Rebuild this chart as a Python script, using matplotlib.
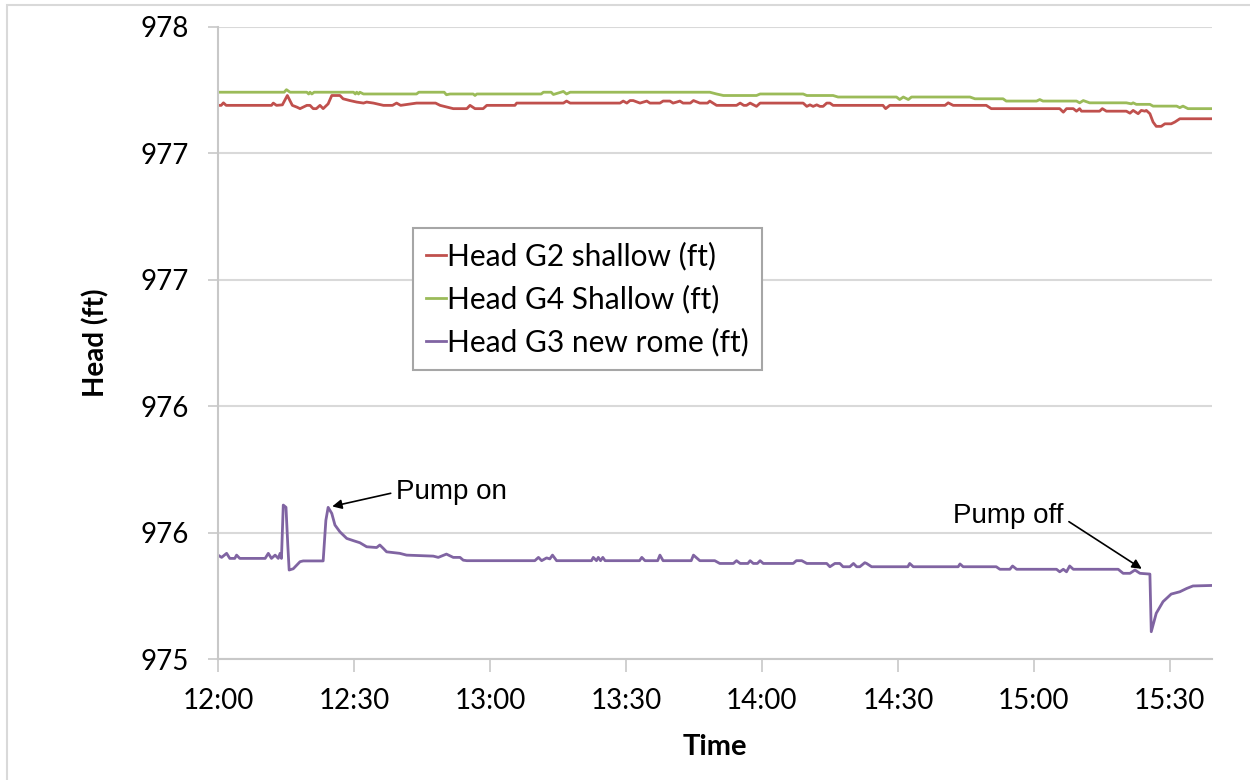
import math
import matplotlib
matplotlib.use('Agg')
import matplotlib.pyplot as plt
from matplotlib.ticker import FuncFormatter, MultipleLocator
from matplotlib.patches import Rectangle

# time in minutes after 12:00, head in ft
g2_min = [0.0, 0.7, 1.2, 1.8, 11.8, 12.2, 12.9, 14.2, 15.3, 16.4, 17.4, 18.1, 19.6, 20.3,
          21.0, 21.7, 22.5, 23.2, 24.3, 25.1, 26.9, 27.6, 29.1, 30.6, 32.1, 32.8, 34.3,
          36.5, 38.5, 39.4, 40.3, 43.8, 48.0, 49.0, 51.9, 54.9, 55.6, 56.7, 58.5, 59.3,
          65.5, 65.9, 76.2, 76.9, 77.7, 88.7, 89.4, 90.2, 90.9, 91.6, 93.1, 94.6, 95.3,
          97.5, 98.2, 99.7, 100.4, 101.2, 101.9, 102.6, 104.2, 104.9, 106.3, 108.0, 108.5,
          110.0, 114.4, 115.2, 116.0, 116.6, 117.4, 118.8, 119.6, 129.1, 129.9, 130.6,
          131.3, 132.1, 132.8, 133.5, 134.3, 135.0, 135.7, 146.7, 147.3, 148.2, 160.4,
          161.1, 162.2, 169.5, 170.6, 185.7, 186.5, 187.2, 188.7, 189.4, 190.1, 190.5,
          194.5, 195.1, 196.0, 200.4, 201.2, 201.9, 203.0, 203.7, 204.5, 204.8, 205.6,
          206.3, 207.0, 208.1, 208.9, 210.3, 211.1, 212.2, 219.3]
g2_head = [977.190, 977.190, 977.200, 977.190, 977.190, 977.199, 977.190, 977.192, 977.229,
           977.190, 977.183, 977.177, 977.190, 977.190, 977.177, 977.177, 977.190, 977.177,
           977.196, 977.229, 977.229, 977.216, 977.209, 977.203, 977.199, 977.203, 977.199,
           977.190, 977.190, 977.199, 977.190, 977.199, 977.199, 977.190, 977.177, 977.177,
           977.190, 977.177, 977.177, 977.190, 977.190, 977.199, 977.199, 977.207, 977.199,
           977.199, 977.207, 977.199, 977.209, 977.209, 977.199, 977.207, 977.199, 977.199,
           977.207, 977.207, 977.199, 977.203, 977.207, 977.199, 977.199, 977.209, 977.199,
           977.199, 977.207, 977.190, 977.190, 977.199, 977.190, 977.190, 977.199, 977.186,
           977.199, 977.199, 977.186, 977.192, 977.186, 977.192, 977.186, 977.186, 977.199,
           977.199, 977.190, 977.190, 977.177, 977.190, 977.190, 977.200, 977.190, 977.190,
           977.177, 977.177, 977.163, 977.177, 977.177, 977.167, 977.177, 977.167, 977.167,
           977.177, 977.167, 977.167, 977.159, 977.170, 977.157, 977.170, 977.167, 977.170,
           977.157, 977.124, 977.107, 977.107, 977.117, 977.117, 977.124, 977.137, 977.137]

g4_min = [0.0, 14.6, 15.1, 15.9, 19.6, 20.0, 20.3, 20.7, 21.2, 29.9, 30.3, 30.6, 31.0, 31.3,
          32.1, 43.8, 44.3, 49.9, 50.4, 51.2, 56.3, 56.7, 57.1, 71.3, 71.8, 73.5, 74.0, 76.2,
          76.9, 77.7, 108.5, 110.0, 111.5, 118.8, 119.6, 129.1, 129.9, 135.7, 136.8, 149.7,
          150.4, 151.2, 152.3, 153.0, 165.9, 167.0, 173.2, 173.9, 180.6, 181.3, 182.0, 189.4,
          190.1, 190.9, 192.3, 200.4, 201.5, 201.9, 202.6, 205.6, 206.3, 211.5, 212.2, 212.9,
          214.0, 219.3]
g4_head = [977.242, 977.242, 977.252, 977.242, 977.242, 977.235, 977.242, 977.235, 977.242,
           977.242, 977.235, 977.242, 977.235, 977.242, 977.235, 977.235, 977.242, 977.242,
           977.232, 977.235, 977.235, 977.229, 977.235, 977.235, 977.242, 977.242, 977.233,
           977.245, 977.235, 977.242, 977.242, 977.235, 977.229, 977.229, 977.235, 977.235,
           977.229, 977.229, 977.223, 977.223, 977.213, 977.223, 977.213, 977.223, 977.223,
           977.216, 977.216, 977.207, 977.207, 977.213, 977.207, 977.207, 977.200, 977.209,
           977.200, 977.200, 977.196, 977.200, 977.194, 977.194, 977.187, 977.187, 977.181,
           977.187, 977.177, 977.177]

g3_min = [0.0, 0.8, 1.9, 2.6, 3.7, 4.1, 4.8, 10.4, 11.1, 11.8, 12.6, 13.3, 13.7, 14.0, 14.4,
          15.0, 15.4, 15.7, 16.6, 18.1, 18.8, 23.2, 23.8, 24.3, 25.1, 25.8, 26.9, 28.4, 29.9,
          31.3, 32.8, 35.0, 35.7, 36.5, 37.2, 40.1, 41.6, 47.5, 48.6, 50.4, 51.9, 53.4, 54.1,
          54.9, 69.9, 70.7, 71.4, 72.5, 73.2, 73.8, 74.7, 82.4, 82.8, 83.5, 83.9, 84.4, 84.9,
          85.4, 93.0, 93.5, 94.2, 97.0, 97.5, 98.2, 104.4, 104.9, 106.3, 109.6, 110.7, 113.7,
          114.4, 115.2, 116.9, 117.4, 118.1, 119.0, 119.6, 120.3, 126.9, 127.6, 128.8, 129.9,
          134.3, 135.0, 136.1, 137.2, 137.9, 139.4, 140.2, 140.9, 141.6, 142.7, 143.1, 144.2,
          152.2, 152.6, 153.4, 163.3, 163.7, 164.4, 171.7, 172.5, 174.7, 175.3, 176.2, 185.0,
          185.7, 186.5, 187.2, 187.9, 188.7, 198.6, 199.7, 201.2, 202.3, 203.4, 205.6, 205.9,
          207.0, 208.5, 210.3, 212.2, 213.7, 215.1, 219.3]
g3_head = [975.411, 975.402, 975.418, 975.398, 975.398, 975.411, 975.398, 975.398, 975.418,
           975.398, 975.411, 975.398, 975.418, 975.398, 975.609, 975.600, 975.450, 975.352,
           975.357, 975.385, 975.388, 975.388, 975.549, 975.600, 975.576, 975.530, 975.503,
           975.477, 975.468, 975.460, 975.444, 975.441, 975.451, 975.437, 975.424, 975.418,
           975.411, 975.407, 975.402, 975.415, 975.402, 975.402, 975.391, 975.389, 975.389,
           975.402, 975.389, 975.400, 975.396, 975.411, 975.389, 975.389, 975.402, 975.389,
           975.402, 975.389, 975.402, 975.389, 975.389, 975.402, 975.389, 975.389, 975.411,
           975.389, 975.389, 975.411, 975.389, 975.389, 975.378, 975.378, 975.389, 975.378,
           975.378, 975.389, 975.378, 975.378, 975.389, 975.378, 975.378, 975.389, 975.389,
           975.378, 975.378, 975.365, 975.378, 975.378, 975.365, 975.365, 975.378, 975.365,
           975.365, 975.381, 975.378, 975.365, 975.365, 975.378, 975.365, 975.365, 975.376,
           975.365, 975.365, 975.355, 975.355, 975.368, 975.355, 975.355, 975.345, 975.355,
           975.345, 975.368, 975.355, 975.355, 975.339, 975.339, 975.352, 975.339, 975.336,
           975.108, 975.181, 975.227, 975.257, 975.266, 975.279, 975.289, 975.291]

pump_on_min = 24.3
pump_off_min = 205.6

font = 'Lato'
plt.rcParams['font.family'] = font

fig = plt.figure(figsize=(12.5, 7.8), dpi=100)
ax = fig.add_axes([0.1744, 0.1551, 0.7952, 0.8103])

ax.plot(g2_min, g2_head, color='#C0504D', lw=2, label='Head G2 shallow (ft)')
ax.plot(g4_min, g4_head, color='#9BBB59', lw=2, label='Head G4 Shallow (ft)')
ax.plot(g3_min, g3_head, color='#8064A2', lw=2, label='Head G3 new rome (ft)')

ax.set_xlim(0, 219.3)
ax.set_ylim(975, 977.5)
ax.xaxis.set_major_locator(MultipleLocator(30))
ax.yaxis.set_major_locator(MultipleLocator(0.5))

# excel style: whole numbers, halves rounded up
ax.yaxis.set_major_formatter(FuncFormatter(lambda v, p: str(int(math.floor(v + 0.5 + 1e-9)))))
ax.xaxis.set_major_formatter(FuncFormatter(
    lambda m, p: '%d:%02d' % (12 + int(round(m)) // 60, int(round(m)) % 60)))

ax.yaxis.grid(True, color='#d9d9d9', lw=1.5)
ax.set_axisbelow(True)
for s in ['top', 'right']:
    ax.spines[s].set_visible(False)
for s in ['left', 'bottom']:
    ax.spines[s].set_color('#c8c8c8')
    ax.spines[s].set_linewidth(1.5)

ax.tick_params(axis='x', length=9, width=1.2, color='#c8c8c8', labelsize=20, pad=12)
ax.tick_params(axis='y', length=7, width=1.2, color='#c8c8c8', labelsize=20, pad=14)

ax.set_ylabel('Head (ft)', fontsize=20, fontweight='bold', labelpad=22)
ax.set_xlabel('Time', fontsize=21, fontweight='bold', labelpad=14)

leg = ax.legend(loc='upper left', bbox_to_anchor=(0.196, 0.682), borderaxespad=0,
                fontsize=21.5, handlelength=0.65, handletextpad=0.05, borderpad=0.45,
                labelspacing=0.48, fancybox=False, framealpha=1, edgecolor='#a6a6a6')
leg.get_frame().set_linewidth(1.5)

on_val = g3_head[g3_min.index(pump_on_min)]
off_val = g3_head[g3_min.index(pump_off_min)]
arrow = dict(arrowstyle='-|>', color='black', lw=1.2, mutation_scale=14, shrinkB=3)
ax.annotate('Pump on', xy=(pump_on_min, on_val), xytext=(49, 11), textcoords='offset points',
            ha='left', va='center', fontsize=20, family='Liberation Sans',
            arrowprops=dict(arrow, relpos=(0, 0.5)))
ax.annotate('Pump off', xy=(pump_off_min, off_val), xytext=(-62, 42), textcoords='offset points',
            ha='right', va='center', fontsize=20, family='Liberation Sans',
            arrowprops=dict(arrow, relpos=(1, 0.4), shrinkB=7))

fig.add_artist(Rectangle((0.0056, -0.1), 1.2, 1.0936, transform=fig.transFigure,
                         fill=False, ec='#d9d9d9', lw=1.5))

fig.savefig('out.png', dpi=100)
